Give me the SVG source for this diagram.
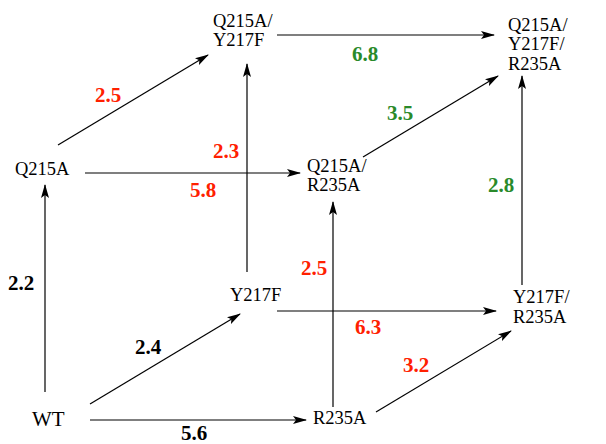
<svg xmlns="http://www.w3.org/2000/svg" width="606" height="444" viewBox="0 0 606 444">
<style>
.n{font-size:18.5px;fill:#000}
.l{font-size:21px;font-weight:bold}
.r{fill:#ff2000}.g{fill:#2a8a2a}.k{fill:#000}
.c line{stroke:#000;stroke-width:1.2;fill:none;marker-end:url(#ah)}
</style>
<defs>
<marker id="ah" viewBox="0 0 14 8" refX="13" refY="4" markerWidth="14" markerHeight="8" markerUnits="userSpaceOnUse" orient="auto">
<path d="M0,0 L14,4 L0,8 L3,4 Z" fill="#000"/>
</marker>
</defs>
<rect width="606" height="444" fill="#fff"/>
<g id="connectors" class="c">
<line x1="45" y1="392" x2="45" y2="185"/>
<line x1="90" y1="404" x2="240" y2="314"/>
<line x1="90" y1="420" x2="306" y2="420"/>
<line x1="333" y1="407" x2="333" y2="202"/>
<line x1="376" y1="412" x2="511" y2="331"/>
<line x1="277" y1="311" x2="496" y2="311"/>
<line x1="247" y1="272" x2="247" y2="64"/>
<line x1="85" y1="173" x2="300" y2="173"/>
<line x1="58" y1="145" x2="208" y2="55"/>
<line x1="277" y1="35" x2="494" y2="35"/>
<line x1="363" y1="157" x2="498" y2="76"/>
<line x1="522" y1="285" x2="522" y2="76"/>
</g>
<g font-family="Liberation Serif, Times New Roman, DejaVu Serif, serif">
<g id="WT"><text class="n" x="32" y="426" style="font-size:21px">WT</text></g>
<g id="Q215A"><text class="n" x="15" y="175">Q215A</text></g>
<g id="Y217F"><text class="n" x="230" y="301">Y217F</text></g>
<g id="R235A"><text class="n" x="313" y="424">R235A</text></g>
<g id="Q215A_Y217F"><text class="n" x="213" y="27">Q215A/</text><text class="n" x="213" y="46">Y217F</text></g>
<g id="Q215A_R235A"><text class="n" x="307" y="172">Q215A/</text><text class="n" x="307" y="191">R235A</text></g>
<g id="Y217F_R235A"><text class="n" x="513" y="303">Y217F/</text><text class="n" x="513" y="323">R235A</text></g>
<g id="Q215A_Y217F_R235A"><text class="n" x="508" y="31">Q215A/</text><text class="n" x="508" y="50">Y217F/</text><text class="n" x="508" y="70">R235A</text></g>
<g id="labels">
<text class="l k" x="8" y="290">2.2</text>
<text class="l k" x="135" y="354">2.4</text>
<text class="l k" x="181" y="440">5.6</text>
<text class="l r" x="95" y="102">2.5</text>
<text class="l r" x="213" y="158">2.3</text>
<text class="l r" x="190" y="197">5.8</text>
<text class="l r" x="301" y="275">2.5</text>
<text class="l r" x="355" y="334">6.3</text>
<text class="l r" x="403" y="372">3.2</text>
<text class="l g" x="352" y="61">6.8</text>
<text class="l g" x="387" y="120">3.5</text>
<text class="l g" x="488" y="192">2.8</text>
</g>
</g>
</svg>
